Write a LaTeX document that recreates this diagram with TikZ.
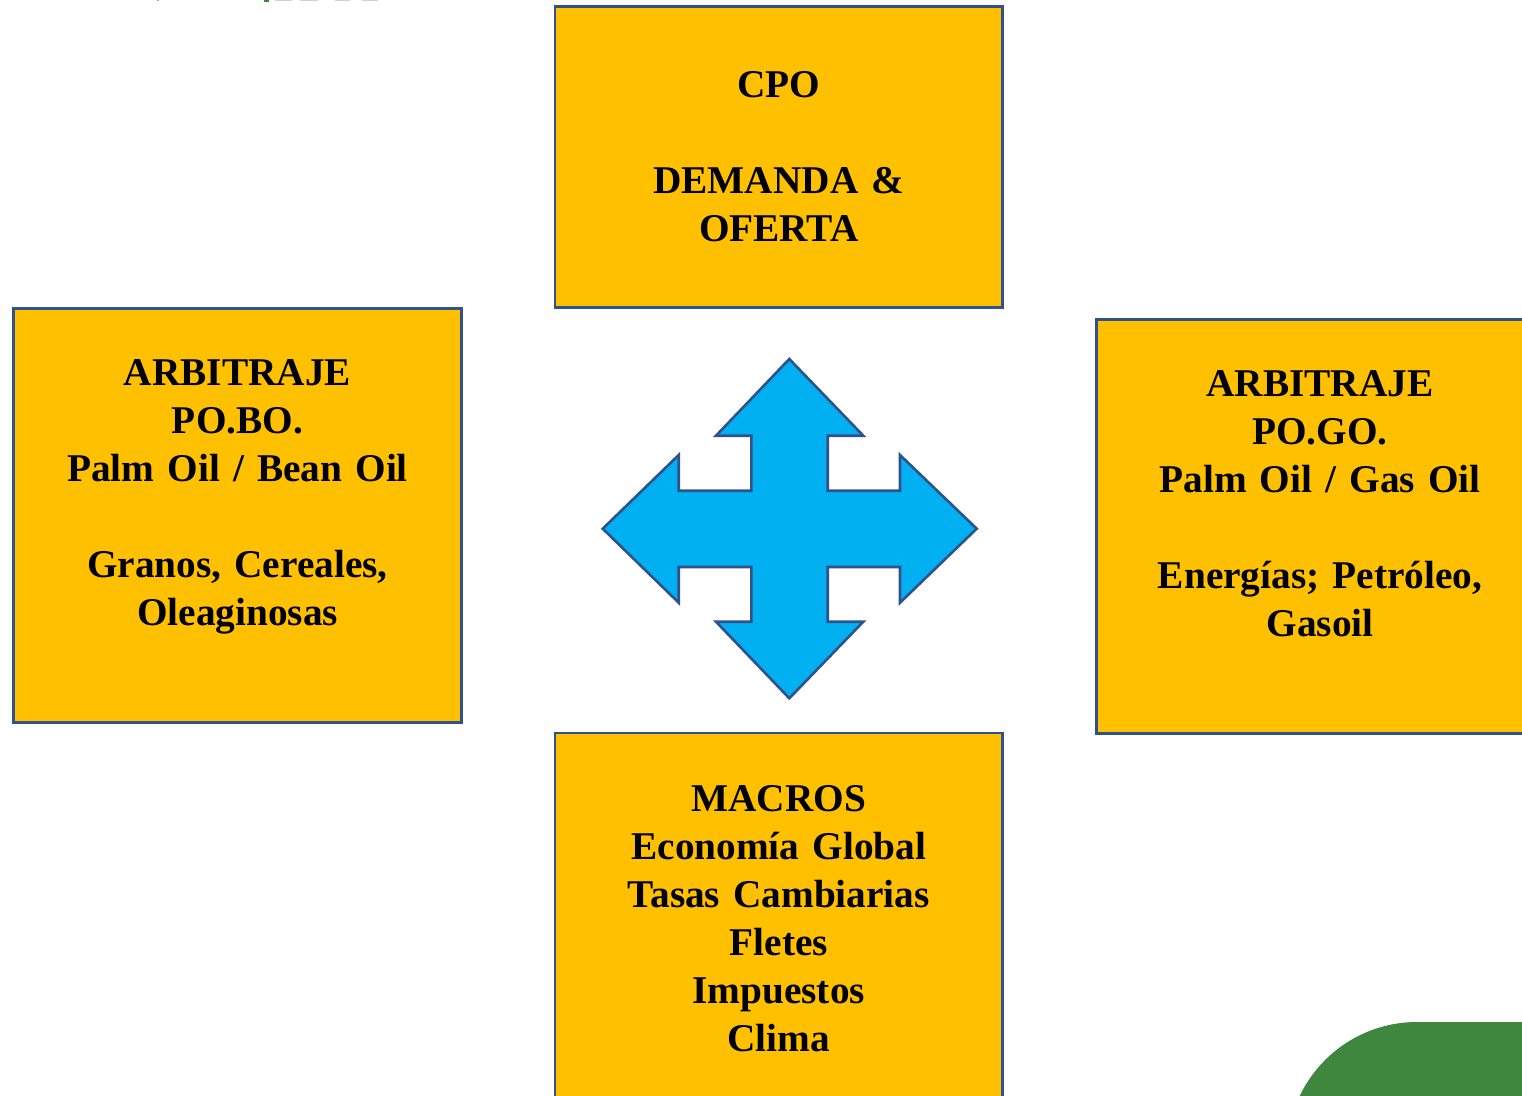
\documentclass[tikz,border=0pt]{standalone}
\usepackage{fontspec}
\setmainfont{Liberation Serif}
\definecolor{boxfill}{HTML}{FFC000}
\definecolor{edgeblue}{HTML}{2F528F}
\definecolor{arrowfill}{HTML}{00B0F0}
\definecolor{leaf}{HTML}{3F873F}
\tikzset{
  infobox/.style={draw=edgeblue,fill=boxfill,line width=2.8pt,rectangle,inner sep=0pt,
    minimum width=447.5pt,align=center,text width=440pt,text=black,
    font=\fontsize{39.3}{48}\selectfont\bfseries},
  crossarrow/.style={draw=edgeblue,fill=arrowfill,line width=2.6pt,line join=miter}
}
\begin{document}
\begin{tikzpicture}[x=1pt,y=-1pt]
\useasboundingbox (0,0) rectangle (1522,1095);
\clip (0,0) rectangle (1522,1095);
\fill[white] (0,0) rectangle (1522,1095);
% cut-off remnants on the top edge
\fill[leaf!60] (156.5,0) rectangle (158.5,1);
\fill[leaf] (264,0) rectangle (269,1.5);
\fill[gray!35] (275,0) rectangle (292,0.8);
\fill[gray!35] (300,0) rectangle (318,0.8);
\fill[gray!35] (335,0) rectangle (350,0.8);
\fill[gray!35] (362,0) rectangle (378,0.8);
% green corner shape
\fill[leaf] (1287,1152) .. controls (1287,1080.2) and (1345.2,1022) .. (1417,1022) -- (1560,1022) -- (1560,1152) -- cycle;
% boxes
\node[infobox,minimum height=301pt] (cpo) at (778.75,157) {CPO\\ \strut\\ DEMANDA \&\\ OFERTA};
\node[infobox,minimum height=414pt] (pobo) at (237.5,515.5) {ARBITRAJE\\ PO.BO.\\ Palm Oil / Bean Oil\\ \strut\\ Granos, Cereales,\\ Oleaginosas\\[-16pt] \strut};
\node[infobox,minimum height=414pt] (pogo) at (1320,526.5) {ARBITRAJE\\ PO.GO.\\ Palm Oil / Gas Oil\\ \strut\\ Energías; Petróleo,\\ Gasoil\\[-16pt] \strut};
\node[infobox,minimum height=371pt] (macros) at (778.75,918.5) {MACROS\\ Economía Global\\ Tasas Cambiarias\\ Fletes\\ Impuestos\\ Clima};
% central four-way arrow
\draw[crossarrow] (789.3,359) -- (863.3,435.7) -- (827.7,435.7) -- (827.7,490.7) -- (900,490.7) -- (900,455) -- (976.7,528.7) -- (900,602.7) -- (900,567) -- (827.7,567) -- (827.7,621.7) -- (863.3,621.7) -- (789.3,698.3) -- (716,621.7) -- (751.3,621.7) -- (751.3,567) -- (678.7,567) -- (678.7,602.7) -- (602.7,528.7) -- (678.7,455) -- (678.7,490.7) -- (751.3,490.7) -- (751.3,435.7) -- (716,435.7) -- cycle;
\end{tikzpicture}
\end{document}
